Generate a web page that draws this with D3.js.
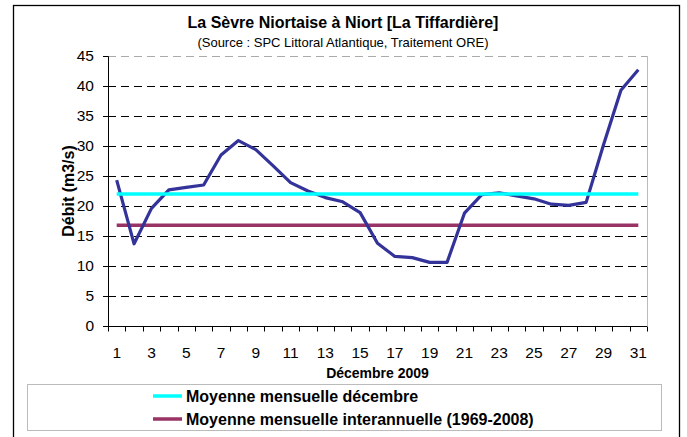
<!DOCTYPE html>
<html>
<head>
<meta charset="utf-8">
<script src="https://cdnjs.cloudflare.com/ajax/libs/d3/7.8.5/d3.min.js"></script>
<style>
  body { margin: 0; background: #fff; }
  svg { display: block; font-family: "Liberation Sans", Arial, sans-serif; }
</style>
</head>
<body>
<svg id="chart" width="687" height="437"></svg>
<script>
// debit journalier, decembre 2009
var days = d3.range(1, 32);
var debit = [24.3, 13.7, 19.6, 22.7, 23.1, 23.5, 28.5, 30.9, 29.4, 26.7,
             23.9, 22.5, 21.4, 20.7, 18.9, 13.8, 11.6, 11.4, 10.6, 10.6,
             18.8, 21.9, 22.2, 21.7, 21.2, 20.3, 20.1, 20.6, 30.2, 39.3, 42.7];
var moyDecembre = 22.0;
var moyInterannuelle = 16.8;
var yTicks = [0, 5, 10, 15, 20, 25, 30, 35, 40, 45];
var legendLabels = ['Moyenne mensuelle décembre', 'Moyenne mensuelle interannuelle (1969-2008)'];

var svg = d3.select('#chart');

var plotLeft = 108, plotRight = 647, plotTop = 56, plotBottom = 326;

// outer frame
svg.append('rect')
  .attr('x', 13.5).attr('y', 5.5)
  .attr('width', 666).attr('height', 440)
  .attr('fill', 'none').attr('stroke', '#000').attr('stroke-width', 1.3);

svg.append('text')
  .attr('x', 343).attr('y', 28)
  .attr('text-anchor', 'middle')
  .attr('font-size', 16).attr('font-weight', 'bold')
  .text('La Sèvre Niortaise à Niort [La Tiffardière]');

svg.append('text')
  .attr('x', 343).attr('y', 47)
  .attr('text-anchor', 'middle')
  .attr('font-size', 13)
  .text('(Source : SPC Littoral Atlantique, Traitement ORE)');

var x = d3.scaleBand().domain(days).range([plotLeft, plotRight]);
var y = d3.scaleLinear().domain([0, 45]).range([plotBottom, plotTop]);

// grid
svg.append('g')
  .selectAll('line')
  .data(yTicks.slice(1))
  .enter()
  .append('line')
  .attr('x1', plotLeft).attr('x2', plotRight)
  .attr('y1', function(d) { return y(d) + 0.5; })
  .attr('y2', function(d) { return y(d) + 0.5; })
  .attr('stroke', function(d) { return d === 45 ? '#aaa' : '#000'; })
  .attr('stroke-width', 1)
  .attr('stroke-dasharray', '8,5');

// right frame of plot
svg.append('line')
  .attr('x1', plotRight + 0.5).attr('x2', plotRight + 0.5)
  .attr('y1', plotTop).attr('y2', plotBottom)
  .attr('stroke', '#bbb');

// y axis
var yAxis = svg.append('g')
  .attr('transform', 'translate(' + plotLeft + ',0)')
  .call(d3.axisLeft(y).tickValues(yTicks).tickSize(5).tickPadding(9));
yAxis.select('.domain').attr('stroke', '#000');
yAxis.selectAll('text').attr('font-size', 15.5).attr('fill', '#000')
  .style('font-family', '"Liberation Sans", Arial, sans-serif');

// x axis: ticks between categories
var xAxis = svg.append('g').attr('transform', 'translate(0,' + (plotBottom + 0.5) + ')');
xAxis.append('line')
  .attr('x1', plotLeft).attr('x2', plotRight).attr('stroke', '#000');
xAxis.selectAll('line.tk')
  .data(days.concat([32]))
  .enter()
  .append('line')
  .attr('class', 'tk')
  .attr('x1', function(d) { return Math.round(d === 32 ? plotRight : x(d)) + 0.5; })
  .attr('x2', function(d) { return Math.round(d === 32 ? plotRight : x(d)) + 0.5; })
  .attr('y1', 0).attr('y2', 5)
  .attr('stroke', '#000');
xAxis.selectAll('text')
  .data(days.filter(function(d) { return d % 2 === 1; }))
  .enter()
  .append('text')
  .attr('x', function(d) { return x(d) + x.bandwidth() / 2; })
  .attr('y', 31)
  .attr('text-anchor', 'middle')
  .attr('font-size', 15.5)
  .text(function(d) { return d; });

svg.append('text')
  .attr('x', (plotLeft + plotRight) / 2).attr('y', 378)
  .attr('text-anchor', 'middle')
  .attr('font-size', 14).attr('font-weight', 'bold')
  .text('Décembre 2009');

svg.append('text')
  .attr('transform', 'translate(74,' + ((plotTop + plotBottom) / 2) + ') rotate(-90)')
  .attr('text-anchor', 'middle')
  .attr('font-size', 16).attr('font-weight', 'bold')
  .text('Débit (m3/s)');

var cx = function(d) { return x(d) + x.bandwidth() / 2; };

// reference lines
svg.append('line')
  .attr('x1', cx(1)).attr('x2', cx(31))
  .attr('y1', y(moyInterannuelle)).attr('y2', y(moyInterannuelle))
  .attr('stroke', '#993366').attr('stroke-width', 3.5);

svg.append('path')
  .datum(days)
  .attr('fill', 'none')
  .attr('stroke', '#333399')
  .attr('stroke-width', 3.2)
  .attr('stroke-linejoin', 'round')
  .attr('d', d3.line()
    .x(function(d) { return cx(d); })
    .y(function(d, i) { return y(debit[i]); }));

svg.append('line')
  .attr('x1', cx(1)).attr('x2', cx(31))
  .attr('y1', y(moyDecembre)).attr('y2', y(moyDecembre))
  .attr('stroke', '#00ffff').attr('stroke-width', 3.5);

// legend
svg.append('rect')
  .attr('x', 27.5).attr('y', 384.5)
  .attr('width', 634).attr('height', 46)
  .attr('fill', '#fff').attr('stroke', '#bbb');

var legendColors = ['#00ffff', '#993366'];
var lg = svg.append('g')
  .selectAll('g')
  .data(legendLabels)
  .enter()
  .append('g')
  .attr('transform', function(d, i) { return 'translate(0,' + (396 + i * 23) + ')'; });
lg.append('line')
  .attr('x1', 153).attr('x2', 182)
  .attr('stroke', function(d, i) { return legendColors[i]; })
  .attr('stroke-width', 3.5);
lg.append('text')
  .attr('x', 186).attr('y', 6)
  .attr('font-size', 16).attr('font-weight', 'bold')
  .text(function(d) { return d; });
</script>
</body>
</html>
